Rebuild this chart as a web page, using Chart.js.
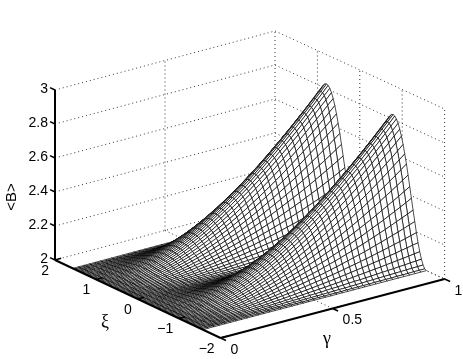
<!DOCTYPE html>
<html>
<head>
<meta charset="utf-8">
<style>
html,body{margin:0;padding:0;background:#fff;}
canvas{display:block;}
</style>
<script src="https://cdn.jsdelivr.net/npm/chart.js@4"></script>
</head>
<body>
<canvas id="myChart" width="463" height="359"></canvas>
<script>
var zTicks = [2,2.2,2.4,2.6,2.8,3];
var xiTicks = [2,1,0,-1,-2];
var gammaTicks = [0,0.5,1];
var zLabels = ["2","2.2","2.4","2.6","2.8","3"];
var xiLabels = ["2","1","0","\u22121","\u22122"];
var gammaLabels = ["0","0.5","1"];

var gammaValues = [0,0.025,0.05,0.075,0.1,0.125,0.15,0.175,0.2,0.225,0.25,0.275,0.3,0.325,0.35,0.375,0.4,0.425,0.45,0.475,0.5,0.525,0.55,0.575,0.6,0.625,0.65,0.675,0.7,0.725,0.75,0.775,0.8,0.825,0.85,0.875,0.9,0.925,0.95,0.975,1];
var xiValues = [-1.571,-1.532,-1.492,-1.453,-1.414,-1.374,-1.335,-1.296,-1.257,-1.217,-1.178,-1.139,-1.1,-1.06,-1.021,-0.982,-0.942,-0.903,-0.864,-0.825,-0.785,-0.746,-0.707,-0.668,-0.628,-0.589,-0.55,-0.511,-0.471,-0.432,-0.393,-0.353,-0.314,-0.275,-0.236,-0.196,-0.157,-0.118,-0.079,-0.039,0,0.039,0.079,0.118,0.157,0.196,0.236,0.275,0.314,0.353,0.393,0.432,0.471,0.511,0.55,0.589,0.628,0.668,0.707,0.746,0.785,0.825,0.864,0.903,0.942,0.982,1.021,1.06,1.1,1.139,1.178,1.217,1.257,1.296,1.335,1.374,1.414,1.453,1.492,1.532,1.571];
// which row of the table below each xi line uses (the ridges repeat)
var rowOrder = [0,1,2,3,4,5,6,7,8,9,10,11,12,13,14,15,16,17,18,19,20,19,18,17,16,15,14,13,12,11,10,9,8,7,6,5,4,3,2,1,0,1,2,3,4,5,6,7,8,9,10,11,12,13,14,15,16,17,18,19,20,19,18,17,16,15,14,13,12,11,10,9,8,7,6,5,4,3,2,1,0];

// <B>, one row per xi line, one value per gamma
var bRows = [
[2,2,2,2,2,2,2,2,2,2,2,2,2,2,2,2,2,2,2,2,2,2,2,2,2,2,2,2,2,2,2,2,2,2,2,2,2,2,2,2,2],
[2,2,2,2,2,2,2,2,2,2,2,2,2.001,2.001,2.001,2.001,2.001,2.001,2.001,2.001,2.002,2.002,2.002,2.002,2.002,2.002,2.003,2.003,2.003,2.003,2.003,2.004,2.004,2.004,2.004,2.005,2.005,2.005,2.006,2.006,2.006],
[2,2,2,2,2,2,2.001,2.001,2.001,2.001,2.002,2.002,2.002,2.003,2.003,2.003,2.004,2.004,2.005,2.006,2.006,2.007,2.007,2.008,2.009,2.01,2.01,2.011,2.012,2.013,2.014,2.015,2.016,2.017,2.018,2.019,2.02,2.021,2.022,2.023,2.024],
[2,2,2,2,2.001,2.001,2.001,2.002,2.002,2.003,2.003,2.004,2.005,2.006,2.007,2.008,2.009,2.01,2.011,2.012,2.014,2.015,2.016,2.018,2.02,2.021,2.023,2.025,2.027,2.028,2.03,2.032,2.035,2.037,2.039,2.041,2.044,2.046,2.049,2.051,2.054],
[2,2,2,2.001,2.001,2.001,2.002,2.003,2.004,2.005,2.006,2.007,2.009,2.01,2.012,2.013,2.015,2.017,2.019,2.021,2.024,2.026,2.029,2.031,2.034,2.037,2.04,2.043,2.046,2.05,2.053,2.057,2.06,2.064,2.068,2.072,2.076,2.08,2.084,2.089,2.093],
[2,2,2,2.001,2.001,2.002,2.003,2.004,2.006,2.007,2.009,2.011,2.013,2.015,2.018,2.02,2.023,2.026,2.029,2.033,2.036,2.04,2.044,2.048,2.052,2.056,2.061,2.066,2.071,2.076,2.081,2.086,2.092,2.097,2.103,2.109,2.115,2.122,2.128,2.135,2.141],
[2,2,2.001,2.001,2.002,2.003,2.005,2.006,2.008,2.01,2.013,2.016,2.018,2.022,2.025,2.029,2.033,2.037,2.041,2.046,2.051,2.056,2.062,2.067,2.073,2.079,2.085,2.092,2.099,2.106,2.113,2.12,2.128,2.136,2.144,2.152,2.161,2.169,2.178,2.187,2.196],
[2,2,2.001,2.002,2.003,2.004,2.006,2.008,2.011,2.014,2.017,2.021,2.024,2.029,2.033,2.038,2.043,2.049,2.055,2.061,2.067,2.074,2.081,2.088,2.096,2.104,2.112,2.121,2.13,2.139,2.148,2.157,2.167,2.178,2.188,2.199,2.21,2.221,2.233,2.245,2.257],
[2,2,2.001,2.002,2.003,2.005,2.008,2.011,2.014,2.017,2.021,2.026,2.031,2.036,2.042,2.048,2.055,2.061,2.069,2.076,2.085,2.093,2.102,2.111,2.121,2.131,2.141,2.152,2.163,2.174,2.186,2.198,2.21,2.223,2.236,2.249,2.263,2.277,2.291,2.305,2.32],
[2,2,2.001,2.002,2.004,2.007,2.009,2.013,2.017,2.021,2.026,2.032,2.038,2.044,2.051,2.058,2.066,2.075,2.084,2.093,2.103,2.113,2.124,2.135,2.146,2.158,2.171,2.183,2.197,2.211,2.225,2.239,2.254,2.27,2.285,2.3,2.317,2.333,2.35,2.367,2.385],
[2,2,2.001,2.003,2.005,2.008,2.011,2.015,2.02,2.025,2.031,2.037,2.044,2.052,2.06,2.069,2.078,2.088,2.099,2.11,2.121,2.133,2.146,2.159,2.173,2.187,2.201,2.216,2.232,2.248,2.264,2.281,2.298,2.315,2.333,2.352,2.371,2.39,2.409,2.429,2.449],
[2,2,2.001,2.003,2.006,2.009,2.013,2.018,2.023,2.029,2.036,2.043,2.051,2.06,2.07,2.08,2.09,2.102,2.114,2.126,2.14,2.153,2.168,2.183,2.198,2.214,2.231,2.248,2.266,2.284,2.302,2.321,2.341,2.361,2.381,2.402,2.424,2.445,2.467,2.49,2.513],
[2,2,2.002,2.004,2.007,2.01,2.015,2.02,2.026,2.033,2.04,2.049,2.058,2.068,2.079,2.09,2.102,2.115,2.128,2.143,2.157,2.173,2.189,2.206,2.223,2.241,2.26,2.279,2.298,2.319,2.339,2.361,2.382,2.405,2.427,2.45,2.474,2.498,2.522,2.547,2.573],
[2,2,2.002,2.004,2.007,2.011,2.016,2.022,2.029,2.036,2.045,2.054,2.064,2.075,2.087,2.1,2.113,2.127,2.142,2.158,2.174,2.191,2.209,2.227,2.247,2.266,2.287,2.308,2.329,2.351,2.374,2.397,2.421,2.445,2.47,2.495,2.521,2.547,2.574,2.601,2.628],
[2,2,2.002,2.004,2.008,2.012,2.018,2.024,2.032,2.04,2.049,2.059,2.07,2.082,2.095,2.109,2.123,2.139,2.155,2.172,2.189,2.208,2.227,2.247,2.268,2.289,2.311,2.334,2.357,2.381,2.405,2.431,2.456,2.482,2.509,2.536,2.564,2.592,2.62,2.649,2.679],
[2,2.001,2.002,2.005,2.009,2.013,2.019,2.026,2.034,2.043,2.053,2.064,2.075,2.088,2.102,2.117,2.132,2.149,2.166,2.184,2.203,2.223,2.243,2.265,2.287,2.309,2.333,2.357,2.382,2.407,2.433,2.46,2.487,2.515,2.543,2.572,2.601,2.631,2.661,2.692,2.723],
[2,2.001,2.002,2.005,2.009,2.014,2.02,2.028,2.036,2.045,2.056,2.067,2.08,2.093,2.108,2.123,2.14,2.157,2.175,2.195,2.215,2.235,2.257,2.28,2.303,2.327,2.351,2.377,2.403,2.429,2.457,2.485,2.513,2.542,2.572,2.602,2.633,2.664,2.695,2.728,2.76],
[2,2.001,2.002,2.005,2.009,2.015,2.021,2.029,2.037,2.047,2.058,2.07,2.083,2.097,2.113,2.129,2.146,2.164,2.183,2.203,2.224,2.246,2.268,2.291,2.316,2.34,2.366,2.392,2.419,2.447,2.475,2.504,2.534,2.564,2.595,2.626,2.658,2.69,2.723,2.756,2.79],
[2,2.001,2.002,2.005,2.01,2.015,2.022,2.03,2.039,2.049,2.06,2.072,2.086,2.1,2.116,2.133,2.15,2.169,2.189,2.209,2.231,2.253,2.276,2.3,2.325,2.35,2.377,2.404,2.431,2.46,2.489,2.519,2.549,2.58,2.611,2.643,2.676,2.709,2.743,2.777,2.811],
[2,2.001,2.002,2.006,2.01,2.015,2.022,2.03,2.039,2.05,2.061,2.074,2.088,2.102,2.118,2.135,2.153,2.172,2.192,2.213,2.235,2.257,2.281,2.305,2.33,2.356,2.383,2.411,2.439,2.468,2.497,2.527,2.558,2.59,2.622,2.654,2.687,2.721,2.755,2.789,2.824],
[2,2.001,2.002,2.006,2.01,2.016,2.022,2.03,2.04,2.05,2.062,2.074,2.088,2.103,2.119,2.136,2.154,2.173,2.193,2.214,2.236,2.259,2.283,2.307,2.332,2.358,2.385,2.413,2.441,2.47,2.5,2.53,2.561,2.593,2.625,2.658,2.691,2.724,2.759,2.793,2.828]
];

// 3d view: data units to the page scales
function project(g, xi, z) {
  return {
    x: 55 + 220 * g + 41.4 * (2 - xi) + g * (2 - xi),
    y: 260 - 59 * g + 19.5 * (2 - xi) - 170 * (z - 2)
  };
}

function lineSet(pts, color, width, dash) {
  return {
    data: pts.map(function (p) { return project(p[0], p[1], p[2]); }),
    showLine: true, pointRadius: 0, tension: 0, fill: false,
    borderColor: color, borderWidth: width, borderDash: dash || [],
    borderCapStyle: 'butt', borderJoinStyle: 'round'
  };
}

var datasets = [];

// axes and ticks, on top
datasets.push(lineSet([[0,2,2],[0,2,3]], '#000', 2));
datasets.push(lineSet([[0,2,2],[0,-2,2]], '#000', 2));
datasets.push(lineSet([[0,-2,2],[1,-2,2]], '#000', 2));
zTicks.forEach(function (z) { datasets.push(lineSet([[0,2,z],[0,2.12,z]], '#000', 1.5)); });
xiTicks.forEach(function (xi) { datasets.push(lineSet([[0,xi,2],[0.028,xi,2]], '#000', 1.5)); });
gammaTicks.forEach(function (g) { datasets.push(lineSet([[g,-2,2],[g,-2.13,2]], '#000', 1.5)); });

// mesh: chart draws the last dataset first, so nearest quads go first
for (var i = 0; i < xiValues.length - 1; i++) {
  for (var j = 0; j < gammaValues.length - 1; j++) {
    var a = bRows[rowOrder[i]], b = bRows[rowOrder[i + 1]];
    var quad = lineSet([
      [gammaValues[j], xiValues[i], a[j]],
      [gammaValues[j + 1], xiValues[i], a[j + 1]],
      [gammaValues[j + 1], xiValues[i + 1], b[j + 1]],
      [gammaValues[j], xiValues[i + 1], b[j]],
      [gammaValues[j], xiValues[i], a[j]]
    ], '#000', 0.7);
    quad.fill = 'shape';
    quad.backgroundColor = '#fff';
    datasets.push(quad);
  }
}

// dotted grid behind everything
var dots = [1, 3];
zTicks.forEach(function (z) {
  datasets.push(lineSet([[0,2,z],[1,2,z]], '#333', 1, dots));
  datasets.push(lineSet([[1,2,z],[1,-2,z]], '#333', 1, dots));
});
[0.5, 1].forEach(function (g) {
  datasets.push(lineSet([[g,2,2],[g,2,3]], '#333', 1, dots));
  datasets.push(lineSet([[g,2,2],[g,-2,2]], '#333', 1, dots));
});
xiTicks.slice(1).forEach(function (xi) {
  datasets.push(lineSet([[1,xi,2],[1,xi,3]], '#333', 1, dots));
  datasets.push(lineSet([[0,xi,2],[1,xi,2]], '#333', 1, dots));
});

// tick labels and axis titles
var labelsPlugin = {
  id: 'labels3d',
  afterDraw: function (chart) {
    var ctx = chart.ctx;
    var sx = chart.scales.x, sy = chart.scales.y;
    function put(text, x, y, align) {
      ctx.textAlign = align;
      ctx.fillText(text, sx.getPixelForValue(x), sy.getPixelForValue(y));
    }
    ctx.save();
    ctx.fillStyle = '#000';
    ctx.textBaseline = 'middle';
    ctx.font = "14px 'Liberation Sans'";
    zTicks.forEach(function (z, n) {
      var p = project(0, 2, z);
      put(zLabels[n], p.x - 7, p.y - 1, 'right');
    });
    xiTicks.forEach(function (xi, n) {
      var p = project(0, xi, 2);
      put(xiLabels[n], p.x - 6, p.y + 11, 'right');
    });
    gammaTicks.forEach(function (g, n) {
      var p = project(g, -2, 2);
      put(gammaLabels[n], p.x + 10, p.y + 12, 'left');
    });
    ctx.font = "18px 'Liberation Serif'";
    put('\u03be', 105, 322, 'center');
    put('\u03b3', 327, 339, 'center');
    ctx.translate(sx.getPixelForValue(12), sy.getPixelForValue(197));
    ctx.rotate(-Math.PI / 2);
    ctx.font = "15px 'Liberation Sans'";
    ctx.textAlign = 'center';
    ctx.fillText('<B>', 0, 0);
    ctx.restore();
  }
};

var ctx = document.getElementById('myChart').getContext('2d');
var myChart = new Chart(ctx, {
  type: 'scatter',
  data: { datasets: datasets },
  plugins: [labelsPlugin],
  options: {
    responsive: false,
    animation: false,
    events: [],
    layout: { padding: 0 },
    scales: {
      x: { type: 'linear', min: 0, max: 463, display: false },
      y: { type: 'linear', min: 0, max: 359, reverse: true, display: false }
    },
    plugins: { legend: { display: false }, tooltip: { enabled: false } }
  }
});
</script>
</body>
</html>
